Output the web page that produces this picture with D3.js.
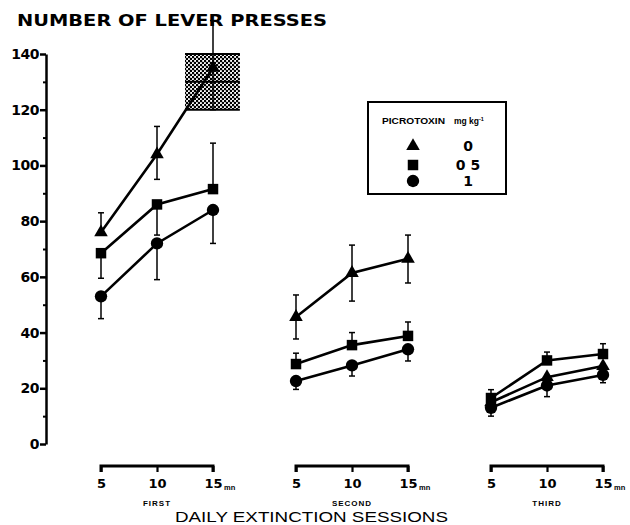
<!DOCTYPE html>
<html>
<head>
<meta charset="utf-8">
<script src="https://cdn.jsdelivr.net/npm/d3@7"></script>
<style>
  body { margin: 0; background: #fff; }
  svg { display: block; }
</style>
</head>
<body>
<svg id="chart" width="630" height="525"></svg>
<script>
// sessions and time points (min)
const sessions = ['FIRST', 'SECOND', 'THIRD'];
const minutes = [5, 10, 15];
const yTicks = [0, 20, 40, 60, 80, 100, 120, 140];

// mean lever presses, 9 points = 3 sessions x 3 time points
const dose0 = [76, 104, 135, 45.6, 61.4, 66.5, 15, 24, 28];
const dose0Hi = [83, 114, 152, 53.5, 71.4, 75, null, null, null];
const dose0Lo = [null, 95, 120, 37.7, 51.3, 57.8, null, null, null];

const dose05 = [68.5, 86, 91.5, 28.7, 35.5, 38.8, 16.5, 30, 32.3];
const dose05Hi = [null, null, 108, 32.6, 40, 43.8, 19.5, 33, 36];
const dose05Lo = [59.5, 75, null, null, null, null, null, null, null];

const dose1 = [53, 72, 84, 22.6, 28.2, 34, 13, 21, 24.8];
const dose1Hi = [null, null, null, null, null, null, null, null, null];
const dose1Lo = [45, 59, 72, 19.6, 24.4, 29.8, 10, 17, 22];

// shaded reference band (first session, 15 min)
const bandMean = 130;
const bandLo = 120;
const bandHi = 140;

const doses = [
    {label: '0', shape: 'triangle', mean: dose0, hi: dose0Hi, lo: dose0Lo},
    {label: '0 5', shape: 'square', mean: dose05, hi: dose05Hi, lo: dose05Lo},
    {label: '1', shape: 'circle', mean: dose1, hi: dose1Hi, lo: dose1Lo},
];

const svg = d3.select('#chart');
const NUM_FONT = 'DejaVu Sans';
const TXT_FONT = 'Liberation Sans';

const y = d3.scaleLinear().domain([0, 140]).range([444, 54]);
const xSession = d3.scalePoint().domain(sessions).range([101, 491]);
const xMin = d3.scaleLinear().domain([5, 15]).range([0, 112]);
const xOf = (i) => xSession(sessions[Math.floor(i / 3)]) + xMin(minutes[i % 3]);

// stipple pattern
const defs = svg.append('defs');
const pat = defs.append('pattern')
    .attr('id', 'stipple')
    .attr('width', 4).attr('height', 4)
    .attr('patternUnits', 'userSpaceOnUse');
pat.append('rect').attr('width', 4).attr('height', 4).attr('fill', '#fff');
pat.append('circle').attr('cx', 1).attr('cy', 1).attr('r', 1.3).attr('fill', '#000');
pat.append('circle').attr('cx', 3).attr('cy', 3).attr('r', 1.3).attr('fill', '#000');

// title
svg.append('text')
    .attr('x', 17).attr('y', 26)
    .attr('textLength', 310).attr('lengthAdjust', 'spacingAndGlyphs')
    .attr('fill', '#000')
    .style('font-family', NUM_FONT).style('font-weight', 'bold')
    .style('font-size', '15.5px')
    .text('NUMBER OF LEVER PRESSES');

// y axis: minor then major ticks
const yMinor = svg.append('g').attr('transform', 'translate(46,0)')
    .call(d3.axisLeft(y).tickValues(d3.range(10, 140, 20)).tickSize(3).tickFormat(''));
yMinor.select('.domain').remove();
const yAxis = svg.append('g').attr('transform', 'translate(46,0)')
    .call(d3.axisLeft(y).tickValues(yTicks).tickSizeInner(6).tickSizeOuter(0).tickPadding(1));
yAxis.selectAll('path, line').attr('stroke', '#000').attr('stroke-width', 2.5);
yMinor.selectAll('line').attr('stroke', '#000').attr('stroke-width', 2);
yAxis.selectAll('text')
    .attr('fill', '#000')
    .style('font-family', NUM_FONT).style('font-weight', 'bold')
    .style('font-size', '14px').attr('letter-spacing', '-0.5');

// x axes, one bracket per session
const AXIS_Y = 466;
const bracket = d3.line();
sessions.forEach((s) => {
    const x0 = xSession(s);
    const g = svg.append('g').attr('transform', `translate(${x0},${AXIS_Y})`)
        .call(d3.axisBottom(xMin).tickValues(minutes).tickSizeInner(6).tickSizeOuter(0).tickPadding(7));
    g.select('.domain').remove();
    g.selectAll('.tick line').attr('stroke', '#000').attr('stroke-width', 2.2);
    g.selectAll('.tick text')
        .attr('fill', '#000')
        .style('font-family', NUM_FONT).style('font-weight', 'bold')
        .style('font-size', '13px');
    const [r0, r1] = xMin.range();
    g.append('path')
        .attr('d', bracket([[r0, 6], [r0, 0], [r1, 0], [r1, 6]]))
        .attr('fill', 'none')
        .attr('stroke', '#000').attr('stroke-width', 3)
        .attr('stroke-linejoin', 'miter');
    svg.append('text')
        .attr('x', x0 + xMin(15) + 11).attr('y', AXIS_Y + 24)
        .attr('fill', '#000')
        .style('font-family', TXT_FONT).style('font-weight', 'bold')
        .style('font-size', '7.5px')
        .text('mn');
    svg.append('text')
        .attr('x', x0 + xMin(10)).attr('y', AXIS_Y + 40)
        .attr('text-anchor', 'middle')
        .attr('fill', '#000')
        .style('font-family', TXT_FONT).style('font-weight', 'bold')
        .style('font-size', '8px').attr('letter-spacing', '1')
        .text(s);
});

svg.append('text')
    .attr('x', 175).attr('y', 522)
    .attr('textLength', 273).attr('lengthAdjust', 'spacingAndGlyphs')
    .attr('fill', '#000')
    .style('font-family', TXT_FONT)
    .style('font-size', '15px')
    .text('DAILY  EXTINCTION  SESSIONS');

// shaded band
const bx0 = xSession('FIRST') + xMin(12.5);
const bx1 = xSession('FIRST') + xMin(17.4);
svg.append('rect')
    .attr('x', bx0).attr('y', y(bandHi))
    .attr('width', bx1 - bx0).attr('height', y(bandLo) - y(bandHi))
    .attr('fill', 'url(#stipple)');
[bandHi, bandMean, bandLo].forEach((v) => {
    svg.append('line')
        .attr('x1', bx0).attr('x2', bx1)
        .attr('y1', y(v)).attr('y2', y(v))
        .attr('stroke', '#000').attr('stroke-width', 2);
});

// markers
const symbolFor = {
    triangle: d3.symbol().type(d3.symbolTriangle).size(80),
    square: d3.symbol().type(d3.symbolSquare).size(110),
    circle: d3.symbol().type(d3.symbolCircle).size(120),
};

const line = d3.line().x((d) => d.x).y((d) => d.y);

doses.forEach((dz) => {
    const pts = dz.mean.map((v, i) => ({x: xOf(i), y: y(v), i}));
    const g = svg.append('g');

    // error bars
    pts.forEach((p) => {
        [dz.hi[p.i], dz.lo[p.i]].forEach((e) => {
            if (e == null) return;
            g.append('line')
                .attr('x1', p.x).attr('x2', p.x)
                .attr('y1', p.y).attr('y2', y(e))
                .attr('stroke', '#000').attr('stroke-width', 1.5);
            g.append('line')
                .attr('x1', p.x - 3).attr('x2', p.x + 3)
                .attr('y1', y(e)).attr('y2', y(e))
                .attr('stroke', '#000').attr('stroke-width', 1.5);
        });
    });

    // lines within each session
    sessions.forEach((s, si) => {
        g.append('path')
            .datum(pts.slice(si * 3, si * 3 + 3))
            .attr('d', line)
            .attr('fill', 'none')
            .attr('stroke', '#000').attr('stroke-width', 2.6);
    });

    g.selectAll('path.mark')
        .data(pts)
        .enter().append('path')
        .attr('class', 'mark')
        .attr('transform', (d) => `translate(${d.x},${d.y})`)
        .attr('d', symbolFor[dz.shape])
        .attr('fill', '#000');
});

// legend
const lg = svg.append('g');
lg.append('rect')
    .attr('x', 368).attr('y', 102).attr('width', 138).attr('height', 92)
    .attr('fill', '#fff').attr('stroke', '#000').attr('stroke-width', 2);
lg.append('text')
    .attr('x', 382).attr('y', 124)
    .attr('textLength', 63).attr('lengthAdjust', 'spacingAndGlyphs')
    .attr('fill', '#000')
    .style('font-family', TXT_FONT).style('font-weight', 'bold')
    .style('font-size', '8.5px')
    .text('PICROTOXIN');
const mg = lg.append('text')
    .attr('x', 454).attr('y', 124)
    .attr('fill', '#000')
    .style('font-family', TXT_FONT).style('font-weight', 'bold')
    .style('font-size', '8.5px');
mg.append('tspan').text('mg kg');
mg.append('tspan').attr('dy', -3).style('font-size', '5.5px').text('-1');

const rowY = [146, 165, 181];
doses.forEach((dz, i) => {
    lg.append('path')
        .attr('transform', `translate(413,${rowY[i]})`)
        .attr('d', symbolFor[dz.shape])
        .attr('fill', '#000');
    lg.append('text')
        .attr('x', 468).attr('y', rowY[i] + 5)
        .attr('text-anchor', 'middle')
        .attr('fill', '#000')
        .style('font-family', NUM_FONT).style('font-weight', 'bold')
        .style('font-size', '14px')
        .text(dz.label);
});
</script>
</body>
</html>
